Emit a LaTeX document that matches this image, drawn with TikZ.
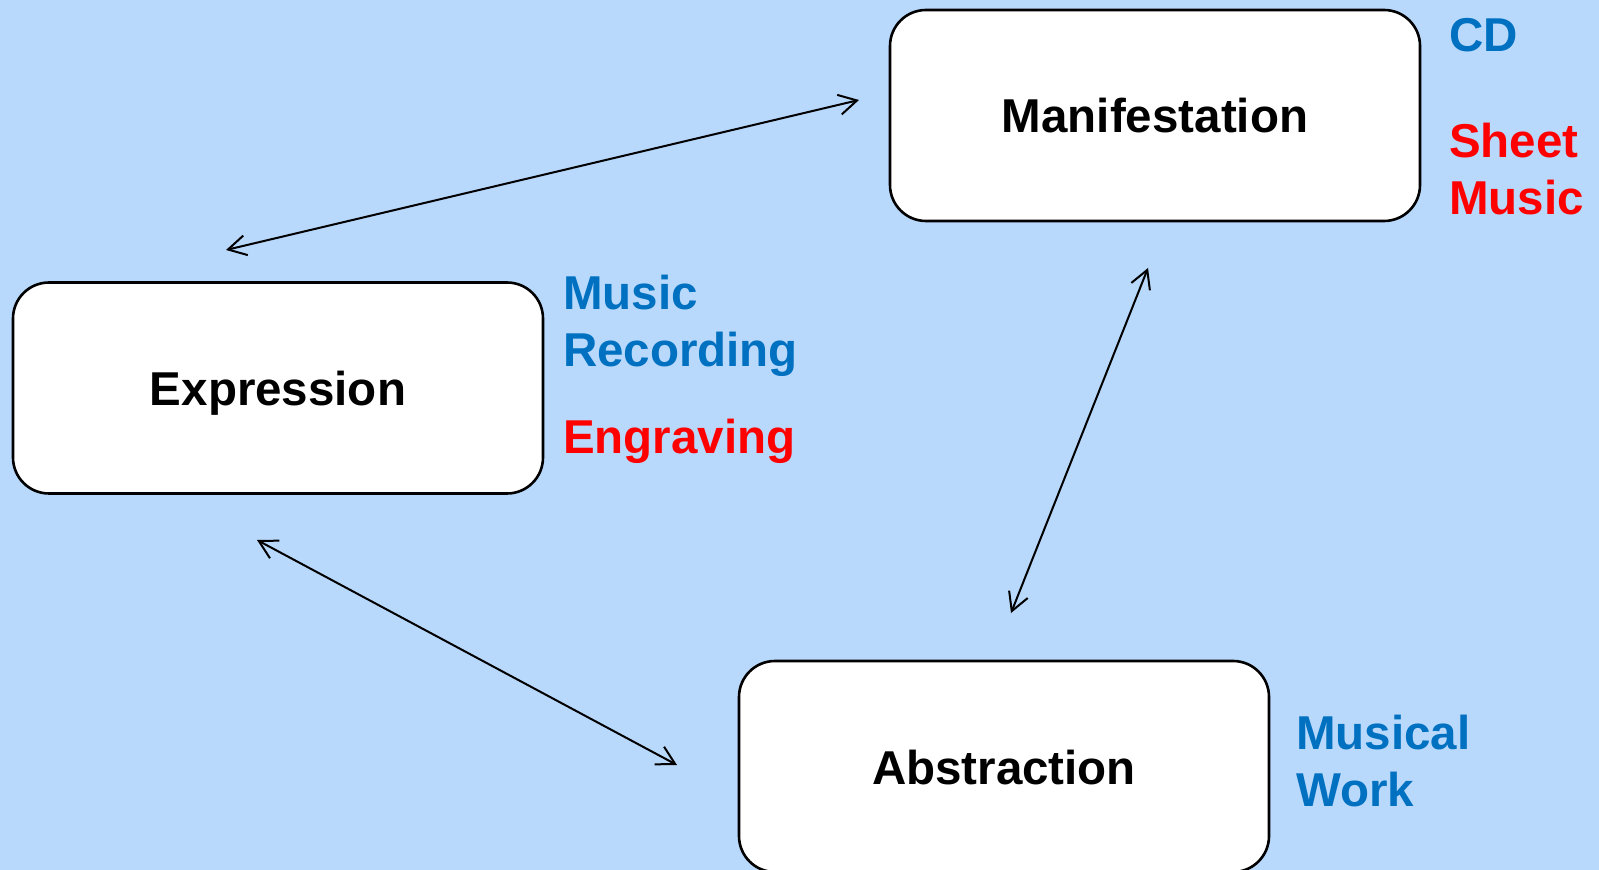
\documentclass[tikz,border=0pt]{standalone}
\usepackage{fontspec}
\setmainfont{Liberation Sans}
\usetikzlibrary{arrows.meta}
\definecolor{bgblue}{RGB}{184,217,252}
\definecolor{noteblue}{RGB}{0,112,192}
\definecolor{notered}{RGB}{255,0,0}
\tikzset{
  entity/.style={draw, line width=1.3pt, fill=white, rounded corners=18pt,
    minimum width=265pt, minimum height=105.5pt, text height=17.5pt, text depth=0pt,
    font=\fontsize{23.75}{28.5}\selectfont\bfseries},
  note/.style={anchor=base west, align=left, font=\fontsize{23.75}{28.5}\selectfont\bfseries},
  link/.style={{Straight Barb[length=9pt,width=10pt]}-{Straight Barb[length=9pt,width=10pt]}, line width=1pt}
}
\begin{document}
\begin{tikzpicture}[x=0.5pt,y=-0.5pt]
\fill[bgblue] (0,0) rectangle (1599,870);
\useasboundingbox (0,0) rectangle (1599,870);
% the three levels
\node[entity] (mani) at (1155,115.5) {Manifestation};
\node[entity] (expr) at (278,388) {Expression};
\node[entity] (abst) at (1004,766.5) {Abstraction};
% examples beside the boxes
\node[note, text=noteblue] (cd) at (1442,52) {CD};
\node[note, text=notered] (sheet) at (1442,215) {Sheet\\Music};
\node[note, text=noteblue] (rec) at (556,367) {Music\\Recording};
\node[note, text=notered] (engr) at (556,454) {Engraving};
\node[note, text=noteblue] (work) at (1289,806) {Musical\\Work};
% arrow ends
\coordinate (em) at (226,250);
\coordinate (me) at (859,100);
\coordinate (ea) at (257,540);
\coordinate (ae) at (677,765);
\coordinate (ma) at (1148,268);
\coordinate (am) at (1011,613);
\draw[link] (em) -- (me);
\draw[link] (ea) -- (ae);
\draw[link] (ma) -- (am);
\end{tikzpicture}
\end{document}
